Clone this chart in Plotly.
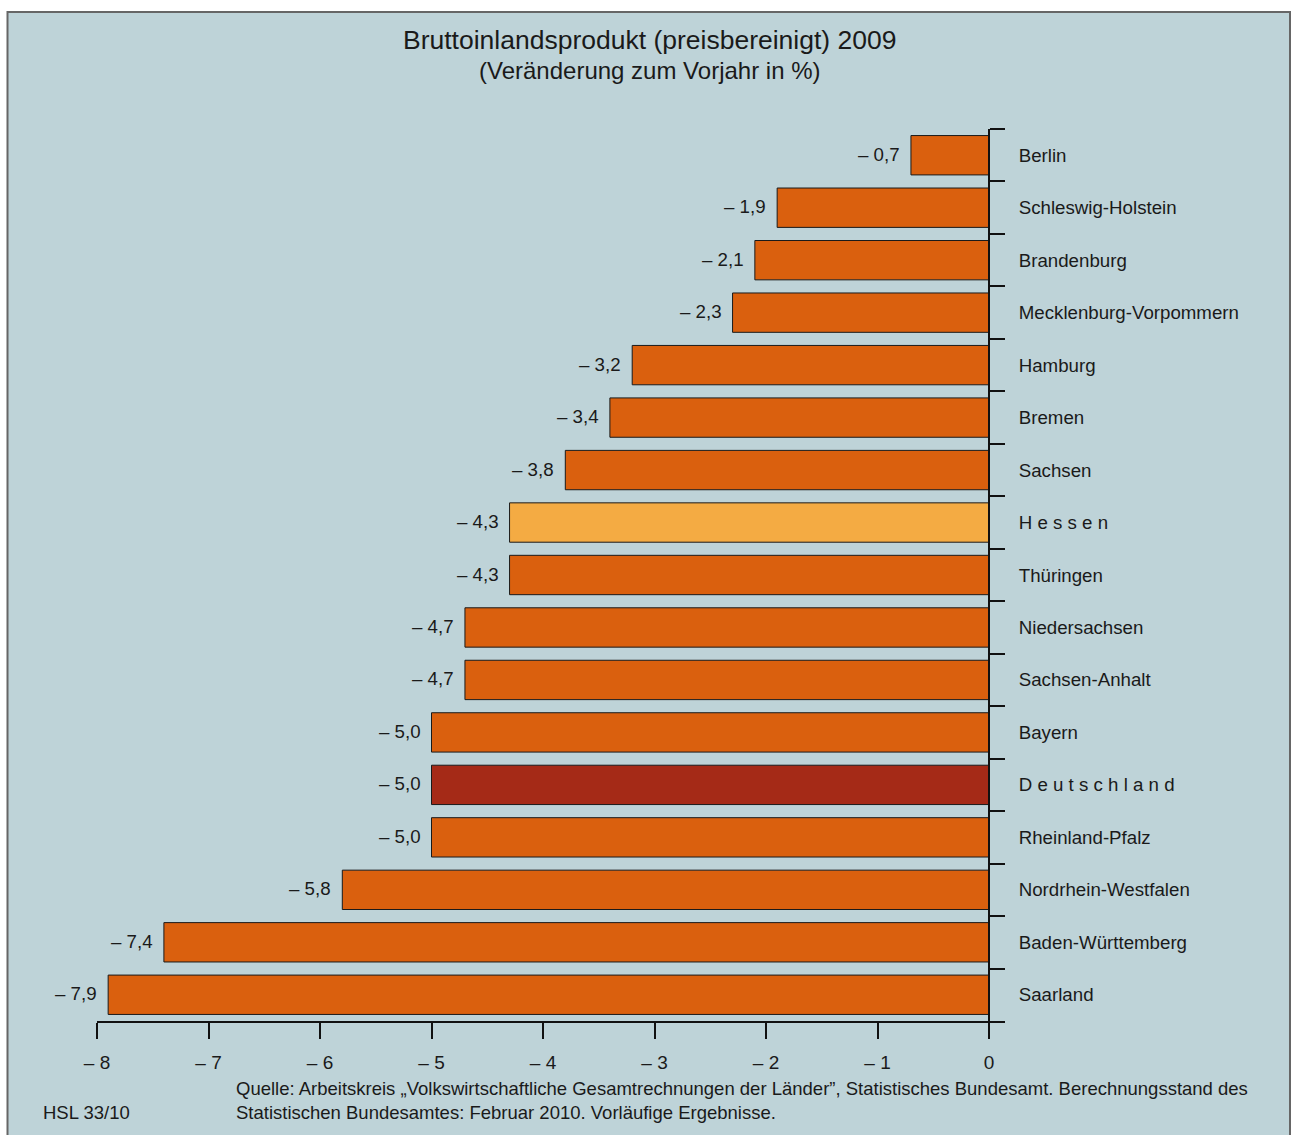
import plotly.graph_objects as go

# ---- data ----
laender = ["Berlin", "Schleswig-Holstein", "Brandenburg", "Mecklenburg-Vorpommern",
           "Hamburg", "Bremen", "Sachsen", "H e s s e n", "Thüringen", "Niedersachsen",
           "Sachsen-Anhalt", "Bayern", "D e u t s c h l a n d", "Rheinland-Pfalz",
           "Nordrhein-Westfalen", "Baden-Württemberg", "Saarland"]
veraenderung = [-0.7, -1.9, -2.1, -2.3, -3.2, -3.4, -3.8, -4.3, -4.3, -4.7,
                -4.7, -5.0, -5.0, -5.0, -5.8, -7.4, -7.9]
x_tickvals = [-8, -7, -6, -5, -4, -3, -2, -1, 0]
x_ticktext = ["– 8", "– 7", "– 6", "– 5", "– 4", "– 3", "– 2", "– 1", "0"]

title = "Bruttoinlandsprodukt (preisbereinigt) 2009"
subtitle = "(Veränderung zum Vorjahr in %)"
quelle = ("Quelle: Arbeitskreis „Volkswirtschaftliche Gesamtrechnungen der Länder”, "
          "Statistisches Bundesamt. Berechnungsstand des<br>"
          "Statistischen Bundesamtes: Februar 2010. Vorläufige Ergebnisse.")
kennung = "HSL 33/10"

# ---- styles ----
FONT = "Liberation Sans, Arial, Helvetica, sans-serif"
TXT = "#1a1a1a"
BG = "#bed3d8"
C_DEFAULT = "#da600e"
C_HESSEN = "#f4ab43"
C_DE = "#a52a17"

colors = []
for name in laender:
    if name.replace(" ", "") == "Hessen":
        colors.append(C_HESSEN)
    elif name.replace(" ", "") == "Deutschland":
        colors.append(C_DE)
    else:
        colors.append(C_DEFAULT)

W, H = 1293, 1135
PL, PR, PT, PB = 97, 1005, 129, 1021  # plot area in px


def px_x(x):
    return (x - PL) / (PR - PL)


def px_y(y):
    return (PB - y) / (PB - PT)


fig = go.Figure()
fig.add_trace(go.Bar(
    x=veraenderung, y=laender, orientation="h", width=0.75,
    marker=dict(color=colors, line=dict(color="#1a1a1a", width=1)),
    hoverinfo="skip",
))

annotations = []
for name, v in zip(laender, veraenderung):
    label = "– " + f"{abs(v):.1f}".replace(".", ",")
    annotations.append(dict(
        x=v, y=name, xref="x", yref="y", text=label, showarrow=False,
        xanchor="right", yanchor="middle", xshift=-9, yshift=1,
        font=dict(family=FONT, size=18.7, color=TXT),
    ))

annotations += [
    dict(x=px_x(650), y=px_y(40), xref="paper", yref="paper", text=title,
         showarrow=False, xanchor="center", yanchor="middle",
         font=dict(family=FONT, size=26.5, color=TXT)),
    dict(x=px_x(650), y=px_y(71), xref="paper", yref="paper", text=subtitle,
         showarrow=False, xanchor="center", yanchor="middle",
         font=dict(family=FONT, size=24, color=TXT)),
    dict(x=px_x(234), y=px_y(1100.5), xref="paper", yref="paper", text=quelle,
         showarrow=False, xanchor="left", yanchor="middle", align="left",
         font=dict(family=FONT, size=18.5, color=TXT)),
    dict(x=px_x(41), y=px_y(1112), xref="paper", yref="paper", text=kennung,
         showarrow=False, xanchor="left", yanchor="middle",
         font=dict(family=FONT, size=18.5, color=TXT)),
]

shapes = [
    dict(type="rect", xref="paper", yref="paper",
         x0=px_x(7.5), x1=px_x(1290), y0=px_y(1150), y1=px_y(12),
         fillcolor=BG, line=dict(color="#666666", width=2), layer="below"),
]

zero_pos = px_x(PL + (PR - PL) * (0 - (-8)) / (0.1435 - (-8)))

fig.update_layout(
    width=W, height=H,
    margin=dict(l=PL, r=W - PR, t=PT, b=H - PB, pad=0),
    paper_bgcolor="white", plot_bgcolor="rgba(0,0,0,0)",
    showlegend=False, bargap=0.25,
    font=dict(family=FONT, color=TXT),
    annotations=annotations, shapes=shapes,
    xaxis=dict(
        range=[-8, 0.1435], tickvals=x_tickvals, ticktext=x_ticktext,
        showgrid=False, zeroline=False, showline=True, linecolor="#111111",
        linewidth=2, ticks="outside", ticklen=16, tickwidth=2, tickcolor="#111111",
        tickfont=dict(family=FONT, size=19, color=TXT), ticklabelstandoff=7,
        fixedrange=True,
    ),
    yaxis=dict(
        type="category", categoryorder="array", categoryarray=laender,
        autorange="reversed", side="right", anchor="free", position=zero_pos,
        showgrid=False, zeroline=False, showline=True, linecolor="#111111",
        linewidth=2, ticks="outside", tickson="boundaries", ticklen=15,
        tickwidth=2, tickcolor="#111111",
        tickfont=dict(family=FONT, size=18.7, color=TXT), ticklabelstandoff=25,
        fixedrange=True,
    ),
)

fig.write_html("out.html", config={"displayModeBar": False})
